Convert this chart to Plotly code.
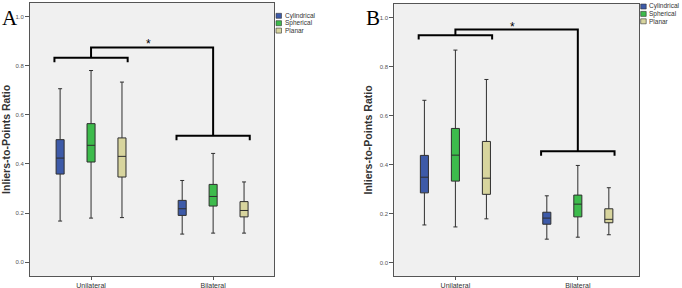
import plotly.graph_objects as go
from plotly.subplots import make_subplots

groups = ['Unilateral', 'Bilateral']
shapes_names = ['Cylindrical', 'Spherical', 'Planar']
colors = ['#3d5aa8', '#3dbb4c', '#d8d59e']

# panel A: [unilateral, bilateral] for each shape
a_low = [[0.168, 0.115], [0.180, 0.119], [0.182, 0.119]]
a_q1 = [[0.359, 0.191], [0.408, 0.229], [0.347, 0.185]]
a_med = [[0.424, 0.218], [0.476, 0.268], [0.431, 0.211]]
a_q3 = [[0.499, 0.252], [0.564, 0.317], [0.506, 0.247]]
a_high = [[0.706, 0.333], [0.780, 0.443], [0.733, 0.327]]

# panel B
b_low = [[0.153, 0.095], [0.145, 0.103], [0.178, 0.113]]
b_q1 = [[0.284, 0.156], [0.332, 0.186], [0.278, 0.162]]
b_med = [[0.348, 0.181], [0.438, 0.238], [0.344, 0.176]]
b_q3 = [[0.437, 0.205], [0.547, 0.275], [0.494, 0.219]]
b_high = [[0.662, 0.272], [0.867, 0.396], [0.747, 0.305]]

# significance brackets: group bracket heights and connecting top line
a_brackets = [0.832, 0.515]
a_top = 0.874
b_brackets = [0.928, 0.454]
b_top = 0.951

fig = make_subplots(rows=1, cols=2)

panels = [(a_low, a_q1, a_med, a_q3, a_high), (b_low, b_q1, b_med, b_q3, b_high)]
for p, (lo, q1, med, q3, hi) in enumerate(panels):
    for i, name in enumerate(shapes_names):
        fig.add_trace(go.Box(
            x=groups, q1=q1[i], median=med[i], q3=q3[i],
            lowerfence=lo[i], upperfence=hi[i],
            name=name, fillcolor=colors[i],
            line=dict(color='#2e2e2e', width=1),
            whiskerwidth=0.5, showlegend=False,
            offsetgroup=name,
        ), row=1, col=p + 1)

fig.update_layout(
    width=682, height=288,
    margin=dict(l=0, r=0, t=0, b=0),
    paper_bgcolor='white', plot_bgcolor='#f0f0f0',
    boxmode='group', boxgap=0.24, boxgroupgap=0.74,
    font=dict(family='Liberation Sans, Arial', color='#444'),
    showlegend=False,
)

axis_common = dict(showline=True, mirror=True, linecolor='#555', linewidth=1,
                   tickcolor='#555', showgrid=False, zeroline=False, ticks='outside')
fig.update_xaxes(**axis_common, ticklen=3, tickfont=dict(size=7, color='#333'),
                 range=[-0.5, 1.5])
fig.update_yaxes(**axis_common, ticklen=4, range=[-0.055, 1.055],
                 tickvals=[0, 0.2, 0.4, 0.6, 0.8, 1.0], tickformat='.1f',
                 tickfont=dict(size=6, color='#555'),
                 title=dict(text='<b>Inliers-to-Points Ratio</b>',
                            font=dict(size=10.5, color='#333'), standoff=4))
fig.update_layout(
    xaxis=dict(domain=[0.044, 0.402]),
    xaxis2=dict(domain=[0.578, 0.937]),
    yaxis=dict(domain=[0.042, 0.99]),
    yaxis2=dict(domain=[0.042, 0.986]),
)

# brackets
drop = 0.018
for xr, yr, br, top in [('x', 'y', a_brackets, a_top), ('x2', 'y2', b_brackets, b_top)]:
    for c, h in enumerate(br):
        fig.add_shape(type='path', xref=xr, yref=yr,
                      path=f'M {c-0.3},{h-drop} L {c-0.3},{h} L {c+0.3},{h} L {c+0.3},{h-drop}',
                      line=dict(color='black', width=2))
    fig.add_shape(type='path', xref=xr, yref=yr,
                  path=f'M 0,{br[0]} L 0,{top} L 1,{top} L 1,{br[1]}',
                  line=dict(color='black', width=2))
    fig.add_annotation(x=0.47, y=top + 0.012, xref=xr, yref=yr, text='*', showarrow=False,
                       yanchor='middle', font=dict(size=12, color='black'))

# legends
for lx, ly in [(276 / 682, 1 - 13.3 / 288), (640.7 / 682, 1 - 4 / 288)]:
    for i, name in enumerate(shapes_names):
        top = ly - i * 7.4 / 288
        fig.add_shape(type='rect', xref='paper', yref='paper',
                      x0=lx, x1=lx + 5.5 / 682, y0=top - 5 / 288, y1=top,
                      fillcolor=colors[i], line=dict(color='#333', width=0.6))
        fig.add_annotation(x=lx + 6.5 / 682, y=top - 2.5 / 288, xref='paper', yref='paper',
                           text=name, showarrow=False, xanchor='left', yanchor='middle',
                           font=dict(size=6.5, color='#333'))

# panel letters
for letter, lx in [('A', 0.0), ('B', 364 / 682)]:
    fig.add_annotation(x=lx, y=1 - 4 / 288, xref='paper', yref='paper', text=letter,
                       showarrow=False, xanchor='left', yanchor='top',
                       font=dict(family='Liberation Serif, Times New Roman', size=21, color='black'))

fig.write_html("out.html", config={'displayModeBar': False},
               post_script="document.body.style.margin='0';")
